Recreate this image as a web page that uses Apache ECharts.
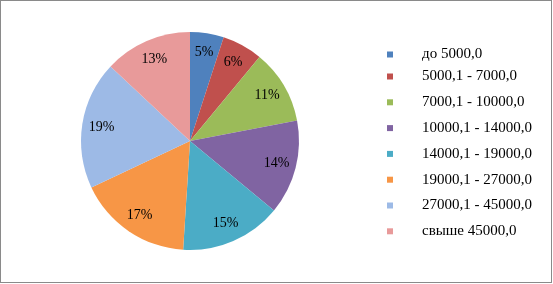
<!DOCTYPE html>
<html><head><meta charset="utf-8">
<script src="https://cdn.jsdelivr.net/npm/echarts@6/dist/echarts.min.js"></script>
<style>
html,body{margin:0;padding:0;background:#fff;}
#c{width:553px;height:284px;position:relative;}
#frame{position:absolute;left:0;top:0;width:552px;height:283px;box-sizing:border-box;border:1px solid #8a8a8a;pointer-events:none;}
</style></head>
<body>
<div id="c"></div><div id="frame"></div>
<script>
const categories = ['до 5000,0','5000,1 - 7000,0','7000,1 - 10000,0','10000,1 - 14000,0','14000,1 - 19000,0','19000,1 - 27000,0','27000,1 - 45000,0','свыше 45000,0'];
const values = [5, 6, 11, 14, 15, 17, 19, 13];
const colors = ['#4F81BD','#C0504D','#9BBB59','#8064A2','#4BACC6','#F79646','#9DBAE6','#E89A9A'];

const chart = echarts.init(document.getElementById('c'), null, {renderer:'canvas'});
const data = categories.map((n,i)=>({name:n, value:values[i], itemStyle:{color:colors[i]}}));
const center = [190, 141];
const legendText = {fontFamily:'Liberation Serif', fontSize:15, color:'#000', padding:[0,0,0,24]};
chart.setOption({
  animation:false,
  color: colors,
  legend:[
    {orient:'vertical', left:382, top:42, itemWidth:6, itemHeight:6, itemGap:10.8,
     icon:'rect', textStyle:legendText, data: categories.slice(0,1)},
    {orient:'vertical', left:382, top:64, itemWidth:6, itemHeight:6, itemGap:10.8,
     icon:'rect', textStyle:legendText, data: categories.slice(1)}
  ],
  series:[
    {type:'pie', center:center, radius:[0,109], startAngle:90, clockwise:true,
     label:{show:false}, labelLine:{show:false}, itemStyle:{borderWidth:0},
     emphasis:{disabled:true}, data:data},
    {type:'pie', center:center, radius:[64,109], startAngle:90, clockwise:true, silent:true,
     legendHoverLink:false,
     itemStyle:{color:'rgba(0,0,0,0)', borderWidth:0},
     label:{show:true, position:'inside', formatter:p=>p.value+'%', fontFamily:'Liberation Serif', fontSize:14, color:'#000'},
     labelLine:{show:false}, emphasis:{disabled:true},
     data: categories.map((n,i)=>({name:n+' ', value:values[i]}))}
  ]
});
</script>
</body></html>
